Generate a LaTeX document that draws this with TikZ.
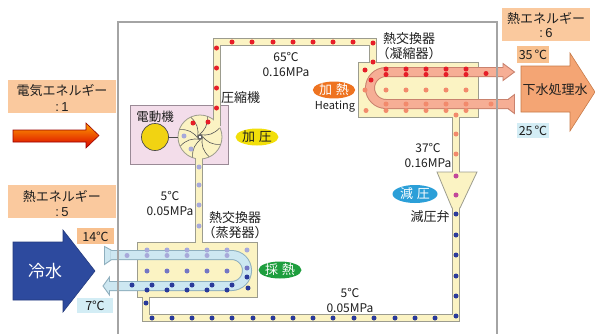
\documentclass[tikz,border=0pt]{standalone}
\usepackage{fontspec}
\setmainfont{Noto Sans CJK JP}
\newfontfamily\ratiofont{Liberation Sans}
\usetikzlibrary{shapes.geometric,calc}

\definecolor{ink}{HTML}{1E1E1E}
\definecolor{framegray}{HTML}{A4A4A4}
\definecolor{pipefill}{HTML}{FBF3C3}
\definecolor{pipeline}{HTML}{9C9C8E}
\definecolor{motorbox}{HTML}{F3DDEA}
\definecolor{motorline}{HTML}{9A8A96}
\definecolor{motorfill}{HTML}{F1D312}
\definecolor{hotfill}{HTML}{F6AE95}
\definecolor{hotline}{HTML}{C9826E}
\definecolor{coldfill}{HTML}{CDE7F1}
\definecolor{coldline}{HTML}{8FAFBE}
\definecolor{peach}{HTML}{FAC99E}
\definecolor{warmtag}{HTML}{F8C08E}
\definecolor{cooltag}{HTML}{D3EDF5}
\definecolor{sewage}{HTML}{F4A574}
\definecolor{sewageline}{HTML}{C77A48}
\definecolor{chill}{HTML}{2D4A9E}
\definecolor{dred}{HTML}{E61E28}
\definecolor{dsalmon}{HTML}{F28A6C}
\definecolor{dlav}{HTML}{A7A9DA}
\definecolor{dmid}{HTML}{7476C4}
\definecolor{dblue}{HTML}{2A3A9A}
\definecolor{dmag}{HTML}{C2479A}
\definecolor{yellowtag}{HTML}{F2DF0A}
\definecolor{orangetag}{HTML}{EE7320}
\definecolor{bluetag}{HTML}{2B9FD8}
\definecolor{greentag}{HTML}{1E9E3E}

\tikzset{
  frame/.style={draw=framegray, line width=1.5pt},
  pipeedge/.style={draw=pipeline, line width=8pt},
  pipecore/.style={draw=pipefill, line width=6pt},
  hxbox/.style={fill=pipefill, draw=pipeline, line width=0.8pt},
  hotedge/.style={draw=hotline, line width=10pt},
  hotcore/.style={draw=hotfill, line width=8pt},
  hothead/.style={fill=hotfill, draw=hotline, line width=0.9pt, line join=miter},
  coldedge/.style={draw=coldline, line width=10pt},
  coldcore/.style={draw=coldfill, line width=8pt},
  coldhead/.style={fill=coldfill, draw=coldline, line width=0.9pt, line join=miter},
  jp/.style={font=\fontsize{13}{15}\selectfont, text=ink, inner sep=0pt, align=center},
  ratio/.style={font=\ratiofont\fontsize{13}{15}\selectfont, text=ink, inner sep=0pt, draw=peach},
  num/.style={font=\fontsize{12}{15}\selectfont, text=ink, inner sep=0pt, align=center},
  tag/.style={font=\fontsize{12.5}{14}\selectfont, text=ink, inner sep=0pt},
  oval/.style={ellipse, inner sep=0pt, font=\fontsize{13}{15}\selectfont},
  panel/.style={fill=peach, inner sep=0pt},
  blade/.style={draw=ink!75, line width=0.6pt},
  dot/.style={radius=2.5pt},
}

\begin{document}
\begin{tikzpicture}[x=1pt, y=-1pt]
\clip (0,0) rectangle (595,333);
\fill[white] (0,0) rectangle (595,333);

% ---- motor housing ----
\draw[fill=motorbox, draw=motorline, line width=0.8pt] (130,105) rectangle (228,164);

% ---- refrigerant pipe, outline pass ----
\draw[pipeedge] (216.5,126) -- (216.5,42) -- (373,42) -- (373,62);
\draw[pipeedge] (456,117) -- (456,173);
\draw[pipeedge] (456,206) -- (456,318) -- (146,318) -- (146,297);
\draw[pipeedge] (199,242) -- (199,156);

% ---- heat exchangers, valve, compressor ----
\draw[hxbox] (358,62) rectangle (478,117);
\draw[hxbox] (137,242) rectangle (257,297);
\draw[hxbox, line join=miter] (437,172) -- (477,172) -- (460,208) -- (452,208) -- cycle;
\node[circle, minimum size=44pt, inner sep=0pt, fill=pipefill, draw=pipeline, line width=0.8pt] (compr) at (200,137) {};

% ---- refrigerant pipe, fill pass ----
\draw[pipecore] (216.5,129) -- (216.5,42) -- (373,42) -- (373,64);
\draw[pipecore] (456,115) -- (456,175);
\draw[pipecore] (456,204) -- (456,318) -- (146,318) -- (146,295);
\draw[pipecore] (199,244) -- (199,156);
\fill[pipefill] (452.6,204) rectangle (459.4,210);

% ---- impeller ----
\coordinate (hub) at (200,137);
\foreach \a in {0,45,...,315}
  \draw[blade] ($(hub)+(\a:2.5)$) to[bend right=30] ($(hub)+(\a+65:21.6)$);
\filldraw[fill=white, draw=ink!70, line width=0.5pt] (198.4,135.4) rectangle (201.6,138.6);

% ---- motor ----
\node[circle, minimum size=27pt, inner sep=0pt, fill=motorfill, draw=ink!80, line width=0.7pt] (motor) at (155,137) {};
\draw[ink!80, line width=0.8pt] (motor) -- (compr);

% ---- hot water coil (condenser) ----
\draw[hotedge, rounded corners=16pt] (503,72) -- (370,72) -- (370,104) -- (509,104);
\filldraw[hothead] (503,63.5) -- (514.5,72) -- (503,80.5) -- cycle;
\filldraw[hothead] (508.5,99) -- (514.5,94.5) -- (514.5,113.5) -- (508.5,109) -- cycle;
\draw[hotcore, rounded corners=16pt] (504,72) -- (370,72) -- (370,104) -- (509.5,104);

% ---- chilled water coil (evaporator) ----
\draw[coldedge, rounded corners=15.5pt] (111,255) -- (247,255) -- (247,286) -- (109.5,286);
\filldraw[coldhead] (111,250) -- (104.5,246.5) -- (104.5,264.5) -- (111,260) -- cycle;
\filldraw[coldhead] (109.5,277) -- (103,286) -- (109.5,295) -- cycle;
\draw[coldcore, rounded corners=15.5pt] (110.5,255) -- (247,255) -- (247,286) -- (108.8,286);

% ---- outer boundary ----
\draw[frame] (118,345) -- (118,22) -- (497,22) -- (497,345);

% ---- refrigerant particles ----
\foreach \p in {(216.5,48),(216.5,68),(216.5,88),(216.5,108),(232,42),(252,42),(273,42),(293,42),(313,42),(333,42),(353,42),(373,43),(373,62),
  (193,123),(208,122),
  (365,70),(386,69),(406,69),(426,69),(446,69),(466,69),(386,74.5),(406,74.5),(426,74.5),(446,74.5),(466,74.5),(486,73.5),(371,80)}
  \fill[dred] \p circle[dot];
\foreach \p in {(365,90),(386,90),(406,90),(426,90),(446,90),(466,90),
  (386,104),(406,104),(426,104),(446,104),(466,104),(491,104),
  (366,110.5),(386,110.5),(406,110.5),(426,110.5),(446,110.5),(466,110.5),
  (456,115),(456,134),(456,154)}
  \fill[dsalmon] \p circle[dot];
\foreach \p in {(456,176),(456,195)}
  \fill[dmag] \p circle[dot];
\foreach \p in {(456,214),(456,235),(456,255),(456,276),(456,296),(456,316),
  (152,318),(172,318),(192,318),(212,318),(232,318),(253,318),(273,318),(293,318),(313,318),(333,318),(354,318),(374,318),(395,318),(415,318),(435,318),
  (146,303),
  (132,285),(152,285),(172,285),(192,285),(212,285),(232,285),(248,288),(247,277),
  (147,290),(167,290),(187,290),(207,290),(227,290)}
  \fill[dblue] \p circle[dot];
\foreach \p in {(147,271),(167,271),(187,271),(207,271),(227,271),(247,268)}
  \fill[dmid] \p circle[dot];
\foreach \p in {(147,250),(167,250),(187,250),(207,250),(227,250),(247,250),
  (127,255.5),(147,255.5),(167,255.5),(187,255.5),(207,255.5),(227,255.5),
  (184,136),(191,149),(199,167),(199,185),(199,205),(199,226)}
  \fill[dlav] \p circle[dot];

% ---- energy panels (ratio line set first, then the heading) ----
\node[panel, minimum width=108pt, minimum height=33pt] (elec) at (62,96.5) {};
\node[ratio] (elec2) at (62,107) {:\,1};
\node[jp] (elec1) at (62,91) {電気エネルギー};
\node[panel, minimum width=108pt, minimum height=33pt] (heatin) at (62,201.5) {};
\node[ratio] (heatin2) at (62,212) {:\,5};
\node[jp] (heatin1) at (62,196) {熱エネルギー};
\node[panel, minimum width=88pt, minimum height=33pt] (heatout) at (546,24.5) {};
\node[ratio] (heatout2) at (546,33) {:\,6};
\node[jp] (heatout1) at (546,18) {熱エネルギー};

% ---- electric input arrow ----
\draw[top color=orange!75!yellow, bottom color=red!85!black, draw=red!60!black, line width=0.6pt]
  (13,130) -- (86,130) -- (86,123) -- (99,135.5) -- (86,148) -- (86,142) -- (13,142) -- cycle;

% ---- chilled water arrow ----
\filldraw[fill=chill, draw=chill!80!black, line width=0.6pt]
  (13,242) -- (63,242) -- (63,230) -- (95,271) -- (63,312) -- (63,300) -- (13,300) -- cycle;
\node[font=\fontsize{17}{19}\selectfont, text=white, inner sep=0pt] (coldw) at (45,271) {冷水};

% ---- treated sewage arrow ----
\filldraw[fill=sewage, draw=sewageline, line width=0.6pt]
  (521,66) -- (570,66) -- (570,53) -- (595,92) -- (570,131) -- (570,112) -- (521,112) -- cycle;
\node[jp] (sewtxt) at (555,90) {下水処理水};

% ---- temperature tags ----
\node[fill=warmtag, minimum width=37pt, minimum height=16pt, inner sep=0pt] (t14) at (95.5,236) {};
\node[tag] at (95.5,236.5) {14℃};
\node[fill=cooltag, minimum width=36pt, minimum height=15pt, inner sep=0pt] (t7) at (95,305.5) {};
\node[tag] at (95,306) {7℃};
\node[fill=warmtag, minimum width=32pt, minimum height=17pt, inner sep=0pt] (t35) at (533,54.5) {};
\node[tag] at (533,55) {35\,℃};
\node[fill=cooltag, minimum width=32pt, minimum height=15pt, inner sep=0pt] (t25) at (533,130.5) {};
\node[tag] at (533,131) {25\,℃};

% ---- component labels ----
\node[jp, font=\fontsize{12.5}{15}\selectfont] (motorlbl) at (155,116.5) {電動機};
\node[jp, anchor=west] (complbl) at (221,98) {圧縮機};
\node[jp] (condlbl) at (409,46.5) {熱交換器\\（凝縮器）};
\node[jp] (evaplbl) at (235,225.5) {熱交換器\\（蒸発器）};
\node[jp] (valvelbl) at (430,216.5) {減圧弁};

% ---- state labels ----
\node[num] (s1) at (286,64) {65℃\\0.16MPa};
\node[num] (s2) at (428,155) {37℃\\0.16MPa};
\node[num] (s3) at (170,203) {5℃\\0.05MPa};
\node[num] (s4) at (350,300) {5℃\\0.05MPa};
\node[num, font=\fontsize{11}{12}\selectfont] (heating) at (335,107) {Heating};

% ---- process ovals ----
\node[oval, fill=yellowtag, text=ink, minimum width=43pt, minimum height=17pt] (press) at (257,137) {加\hspace{4pt}圧};
\node[oval, fill=orangetag, text=white, minimum width=42pt, minimum height=16pt] (heat) at (334,90) {加\hspace{4pt}熱};
\node[oval, fill=bluetag, text=white, minimum width=45pt, minimum height=18pt] (depress) at (415,194) {減\hspace{4pt}圧};
\node[oval, fill=greentag, text=white, minimum width=43pt, minimum height=17pt] (absorb) at (280,270) {採\hspace{4pt}熱};

\end{tikzpicture}
\end{document}
